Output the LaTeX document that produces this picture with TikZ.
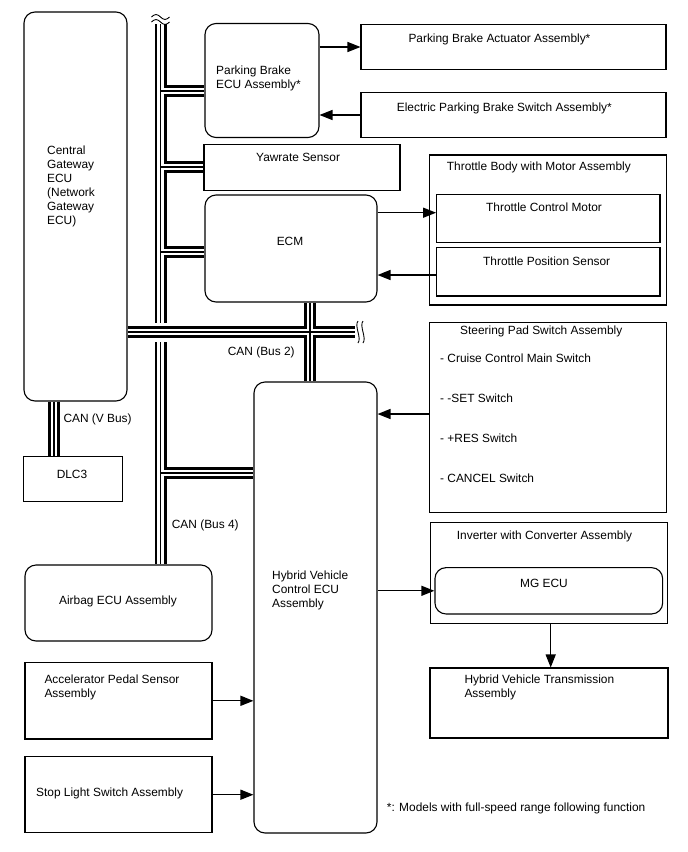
\documentclass[tikz,border=0pt]{standalone}
\usepackage{fontspec}
\setmainfont{Liberation Sans}
\usetikzlibrary{arrows.meta, positioning}

\begin{document}
\begin{tikzpicture}[x=1pt, y=-1pt,
    box/.style={draw, line width=1.1pt, inner sep=0pt},
    rbox/.style={box, rounded corners=11pt},
    txt/.style={anchor=base west, inner sep=0pt, align=left,
                font=\fontsize{11.9}{14}\selectfont},
    ctxt/.style={txt, anchor=base},
    arr/.style={-{Triangle[length=13pt, width=10pt]}, line width=1.3pt},
    halo/.style={white, line width=19pt},
    brk/.style={line width=0.9pt}
  ]
    \useasboundingbox (0,0) rectangle (688,852);
    \fill[white] (0,0) rectangle (688,852);

    % left column (multi-line labels sit on their last baseline)
    \node[rbox, minimum width=103pt, minimum height=389pt] (gw) at (75.5,206.5) {};
    \node[txt] (gw-t) at (47,224.3) {Central\\Gateway\\ECU\\(Network\\Gateway\\ECU)};
    \node[box, minimum width=99pt, minimum height=45.5pt] (dlc) at (73,478.8) {};
    \node[ctxt] (dlc-t) at (72,478.3) {DLC3};
    \node[rbox, minimum width=187pt, minimum height=76pt] (air) at (118.5,603) {};
    \node[ctxt] (air-t) at (118,604.3) {Airbag ECU Assembly};
    \node[box, minimum width=187pt, minimum height=76.3pt] (aps) at (118.5,700.8) {};
    \node[txt] (aps-t) at (44.3,697.6) {Accelerator Pedal Sensor\\Assembly};
    \node[box, minimum width=187pt, minimum height=76pt] (sls) at (118.5,794.7) {};
    \node[txt] (sls-t) at (36,796) {Stop Light Switch Assembly};

    % middle column
    \node[rbox, minimum width=114pt, minimum height=114pt] (pbecu) at (262,80.5) {};
    \node[txt] (pbecu-t) at (216,88.3) {Parking Brake\\ECU Assembly*};
    \node[box, minimum width=196pt, minimum height=45.7pt] (yaw) at (302,167.2) {};
    \node[txt] (yaw-t) at (256,161) {Yawrate Sensor};
    \node[rbox, minimum width=172pt, minimum height=107pt] (ecm) at (291,248.5) {};
    \node[ctxt] (ecm-t) at (290,245.3) {ECM};
    \node[rbox, minimum width=123pt, minimum height=451pt] (hv) at (315.5,607.5) {};
    \node[txt] (hv-t) at (272,607.3) {Hybrid Vehicle\\Control ECU\\Assembly};

    % right column
    \node[box, minimum width=305pt, minimum height=45.4pt] (pbact) at (513.5,47) {};
    \node[txt] (pbact-t) at (408.3,42.6) {Parking Brake Actuator Assembly*};
    \node[box, minimum width=305pt, minimum height=45pt] (epbsw) at (513.5,115) {};
    \node[txt] (epbsw-t) at (396.7,111) {Electric Parking Brake Switch Assembly*};
    \node[box, minimum width=237.4pt, minimum height=150pt] (tb) at (548,230) {};
    \node[txt] (tb-t) at (446.7,170) {Throttle Body with Motor Assembly};
    \node[box, minimum width=223.3pt, minimum height=48pt] (tcm) at (548.3,218.3) {};
    \node[txt] (tcm-t) at (486,211.3) {Throttle Control Motor};
    \node[box, minimum width=223.3pt, minimum height=48.3pt] (tps) at (548.3,271.8) {};
    \node[txt] (tps-t) at (483,265) {Throttle Position Sensor};
    \node[box, minimum width=237.4pt, minimum height=189.7pt] (sp) at (548,417.2) {};
    \node[txt] (sp-t) at (460,334.3) {Steering Pad Switch Assembly};
    \node[txt] (sp-1) at (440,362.6) {- Cruise Control Main Switch};
    \node[txt] (sp-2) at (440,402.6) {- -SET Switch};
    \node[txt] (sp-3) at (440,442.6) {- +RES Switch};
    \node[txt] (sp-4) at (440,482.6) {- CANCEL Switch};
    \node[box, minimum width=237pt, minimum height=100.7pt] (inv) at (549.2,572.7) {};
    \node[txt] (inv-t) at (456.7,539.3) {Inverter with Converter Assembly};
    \node[rbox, minimum width=227.7pt, minimum height=46.3pt] (mg) at (548.8,590.8) {};
    \node[txt] (mg-t) at (520,587.3) {MG ECU};
    \node[box, minimum width=238pt, minimum height=70pt] (hvt) at (549,703) {};
    \node[txt] (hvt-t) at (464.3,697.6) {Hybrid Vehicle Transmission\\Assembly};

    \node[txt] (note) at (386.7,811) {*: Models with full-speed range following function};

    % signal lines
    \draw[arr] (pbecu.east |- pbact.west) -- (pbact.west);
    \draw[arr] (epbsw.west) -- (epbsw.west -| pbecu.east);
    \draw[arr] ([yshift=5.6pt]tcm.west -| ecm.east) -- ([yshift=5.6pt]tcm.west);
    \draw[arr] ([yshift=-3.2pt]tps.west) -- ([yshift=-3.2pt]tps.west -| ecm.east);
    \draw[arr] ([yshift=3.2pt]sp.west) -- ([yshift=3.2pt]sp.west -| hv.east);
    \draw[arr] (mg.west -| hv.east) -- (mg.west);
    \draw[arr] ([xshift=1.5pt]inv.south) -- ([xshift=1.5pt]inv.south |- hvt.north);
    \draw[arr] (aps.east) -- (aps.east -| hv.west);
    \draw[arr] (sls.east) -- (sls.east -| hv.west);

    % CAN (Bus 4)
    \coordinate (b4top) at (160.5,24);
    \coordinate (j1) at (160.5,91);
    \coordinate (j2) at (160.5,167);
    \coordinate (j3) at (160.5,252);
    \coordinate (j4) at (160.5,473);
    \foreach \lw/\lc in {12pt/black, 6.5pt/white, 1.2pt/black}
      \draw[line width=\lw, draw=\lc] (b4top) -- (b4top |- air.north)
        (j1) -- (j1 -| pbecu.west) (j2) -- (j2 -| yaw.west)
        (j3) -- (j3 -| ecm.west) (j4) -- (j4 -| hv.west);
    \draw[brk] (b4top) ++(-9,-2) sin ++(4.5,-2.5) cos ++(4.5,2.5) sin ++(4.5,2.5) cos ++(4.5,-2.5);
    \draw[brk] (b4top) ++(-9,-7) sin ++(4.5,-2.5) cos ++(4.5,2.5) sin ++(4.5,2.5) cos ++(4.5,-2.5);

    % CAN (Bus 2) and CAN (V Bus)
    \coordinate (b2r) at (355,332);
    \coordinate (j5) at (310,332);
    \coordinate (vb) at (54,430);
    \coordinate (x4) at (b4top |- b2r);
    \draw[halo] ([xshift=-14pt]x4) -- ([xshift=14pt]x4);
    \foreach \lw/\lc in {12pt/black, 6.5pt/white, 1.2pt/black}
      \draw[line width=\lw, draw=\lc] (gw.east |- b2r) -- (b2r)
        (j5 |- ecm.south) -- (j5 |- hv.north)
        (vb |- gw.south) -- (vb |- dlc.north);
    \draw[brk] ([xshift=3pt,yshift=11pt]b2r) .. controls +(-4,5) and +(4,-5) .. ([xshift=3pt,yshift=-11pt]b2r);
    \draw[brk] ([xshift=8pt,yshift=11pt]b2r) .. controls +(-4,5) and +(4,-5) .. ([xshift=8pt,yshift=-11pt]b2r);

    \node[txt] (can-v) at (63.3,422) {CAN (V Bus)};
    \node[txt] (can-2) at (227.7,355) {CAN (Bus 2)};
    \node[txt] (can-4) at (171.7,528.6) {CAN (Bus 4)};
  \end{tikzpicture}
\end{document}
